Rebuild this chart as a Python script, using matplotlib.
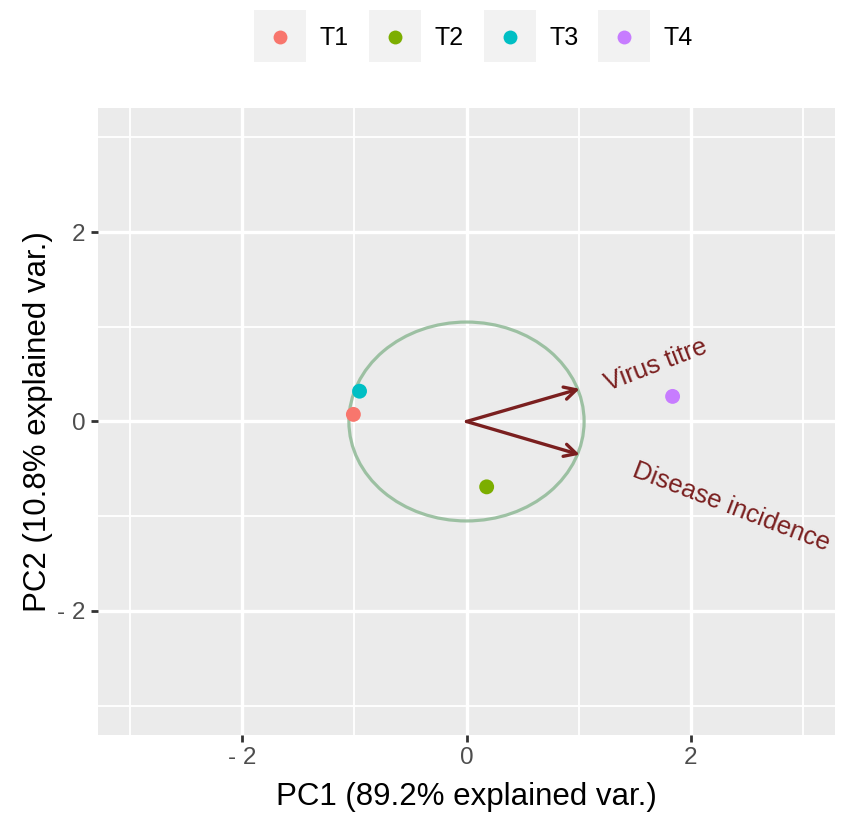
import numpy as np
import matplotlib
matplotlib.use("Agg")
import matplotlib.pyplot as plt
from matplotlib.patches import Circle, Rectangle
from matplotlib.lines import Line2D

plt.rcParams['font.family'] = ['Liberation Sans', 'DejaVu Sans']

# Data
groups = ["T1", "T2", "T3", "T4"]
pc1 = [-1.01, 0.18, -0.955, 1.84]
pc2 = [0.075, -0.69, 0.32, 0.265]
colors = ["#F8766D", "#7CAE00", "#00BFC4", "#C77CFF"]

var_names = ["Virus titre", "Disease incidence"]
var_x = [1.01, 1.01]
var_y = [0.345, -0.35]
circle_radius = 1.05

xticks = [-2, 0, 2]
xticklabels = ["- 2", "0", "2"]
yticks = [-2, 0, 2]
yticklabels = ["- 2", "0", "2"]
minor_ticks = [-3, -1, 1, 3]

xlabel = "PC1 (89.2% explained var.)"
ylabel = "PC2 (10.8% explained var.)"

fig = plt.figure(figsize=(8.51, 8.21), dpi=100)
ax = fig.add_axes([98/851, 1-735/821, (835-98)/851, (735-108)/821])
ax.set_facecolor("#EBEBEB")
for s in ax.spines.values():
    s.set_visible(False)

ax.set_xlim(-3.29, 3.29)
ax.set_ylim(-3.31, 3.31)
ax.set_xticks(xticks)
ax.set_xticklabels(xticklabels)
ax.set_yticks(yticks)
ax.set_yticklabels(yticklabels)
ax.set_xticks(minor_ticks, minor=True)
ax.set_yticks(minor_ticks, minor=True)
ax.grid(which="major", color="white", linewidth=2.4)
ax.grid(which="minor", color="white", linewidth=1.3)
ax.set_axisbelow(True)
ax.tick_params(which="major", length=5, width=2, color="#333333",
               labelcolor="#4D4D4D", labelsize=17.5, pad=4)
ax.tick_params(which="minor", length=0)

ax.set_xlabel(xlabel, fontsize=22.5, color="black", labelpad=9)
ax.set_ylabel(ylabel, fontsize=22.5, color="black", labelpad=3)

# circle
ax.add_patch(Circle((0, 0), circle_radius, fill=False, edgecolor="#8FB996",
                    linewidth=2.3, alpha=0.85, zorder=2))

# arrows
for vx, vy in zip(var_x, var_y):
    ax.annotate("", xy=(vx, vy), xytext=(0, 0),
                arrowprops=dict(arrowstyle="->,head_length=0.85,head_width=0.45",
                                color="#7A1F1F", lw=2.4, shrinkA=0, shrinkB=0),
                zorder=3)

# variable labels
label_pos = [(1.69, 0.60), (2.36, -0.90)]
label_rot = [21, -21]
for name, (lx, ly), rot in zip(var_names, label_pos, label_rot):
    ax.text(lx, ly, name, color="#7A1F1F", fontsize=18.5, rotation=rot,
            ha="center", va="center", rotation_mode="anchor", zorder=4)

# points
for g, x, y, c in zip(groups, pc1, pc2, colors):
    ax.scatter([x], [y], s=115, color=c, zorder=5, edgecolors="none")

# legend (manual, ggplot style with gray key backgrounds)
key_left = [254, 369, 484, 598]
for g, c, kl in zip(groups, colors, key_left):
    fig.add_artist(Rectangle((kl/851, 1-62/821), 52/851, 52/821,
                             transform=fig.transFigure, facecolor="#F2F2F2",
                             edgecolor="none"))
    fig.add_artist(Line2D([(kl+26)/851], [1-37/821], marker="o", markersize=10,
                          color=c, markeredgewidth=0, linestyle="none",
                          transform=fig.transFigure))
    fig.text((kl+66)/851, 1-38/821, g, fontsize=18, ha="left", va="center",
             color="black")

fig.savefig("out.png", dpi=100)
